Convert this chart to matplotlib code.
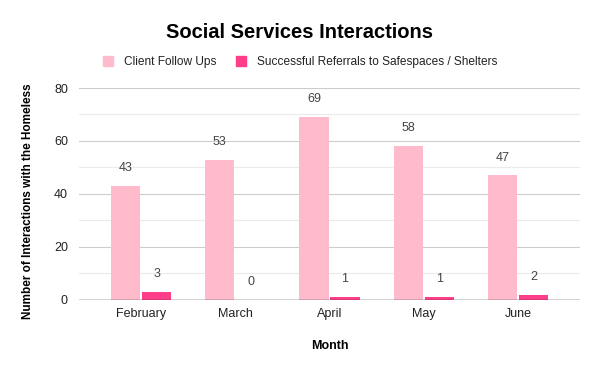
import matplotlib.pyplot as plt
import numpy as np
from matplotlib.patches import Patch

plt.rcParams['font.family'] = ['Liberation Sans', 'DejaVu Sans']

months = ['February', 'March', 'April', 'May', 'June']
follow_ups = [43, 53, 69, 58, 47]
referrals = [3, 0, 1, 1, 2]

light = '#ffbbcc'
hot = '#ff3d88'

fig = plt.figure(figsize=(6, 3.71), dpi=100)
ax = fig.add_axes([0.1317, 0.1914, 0.835, 0.5714])

x = np.arange(len(months))
w = 0.31
b1 = ax.bar(x - w / 2 - 0.01, follow_ups, w, color=light, zorder=3)
b2 = ax.bar(x + w / 2 + 0.01, referrals, w, color=hot, zorder=3)

for rect, v in zip(list(b1) + list(b2), follow_ups + referrals):
    ax.text(rect.get_x() + rect.get_width() / 2, v + 4.5, str(v),
            ha='center', va='bottom', fontsize=9, color='#444444')

ax.set_xlim(-0.66, 4.66)
ax.set_ylim(0, 80)
ax.set_yticks([0, 20, 40, 60, 80])
ax.set_yticks([10, 30, 50, 70], minor=True)
ax.grid(axis='y', which='major', color='#cccccc', lw=0.8, zorder=0)
ax.grid(axis='y', which='minor', color='#ebebeb', lw=0.8, zorder=0)
ax.axhline(0, color='#333333', lw=1, zorder=4)
ax.set_xticks(x)
ax.set_xticklabels(months)
ax.tick_params(axis='both', which='both', length=0, labelsize=9, colors='#222222')
ax.tick_params(axis='x', pad=6)
ax.tick_params(axis='y', pad=8)
for s in ax.spines.values():
    s.set_visible(False)

ax.set_xlabel('Month', fontsize=9, fontweight='bold', labelpad=14)
ax.set_ylabel('Number of Interactions with the Homeless', fontsize=8.5,
              fontweight='bold')
ax.yaxis.set_label_coords(-0.089, 0.465)

fig.text(0.5, 0.912, 'Social Services Interactions', ha='center', va='center',
         fontsize=14.5, fontweight='bold', color='#000000')

handles = [Patch(color=light, label='Client Follow Ups'),
           Patch(color=hot, label='Successful Referrals to Safespaces / Shelters')]
fig.legend(handles=handles, loc='center', bbox_to_anchor=(0.5, 0.833), ncol=2,
           frameon=False, fontsize=8.6, handlelength=0.9, handleheight=0.9,
           columnspacing=1.6, handletextpad=0.9, labelcolor='#222222')

fig.savefig('out.png', dpi=100)
